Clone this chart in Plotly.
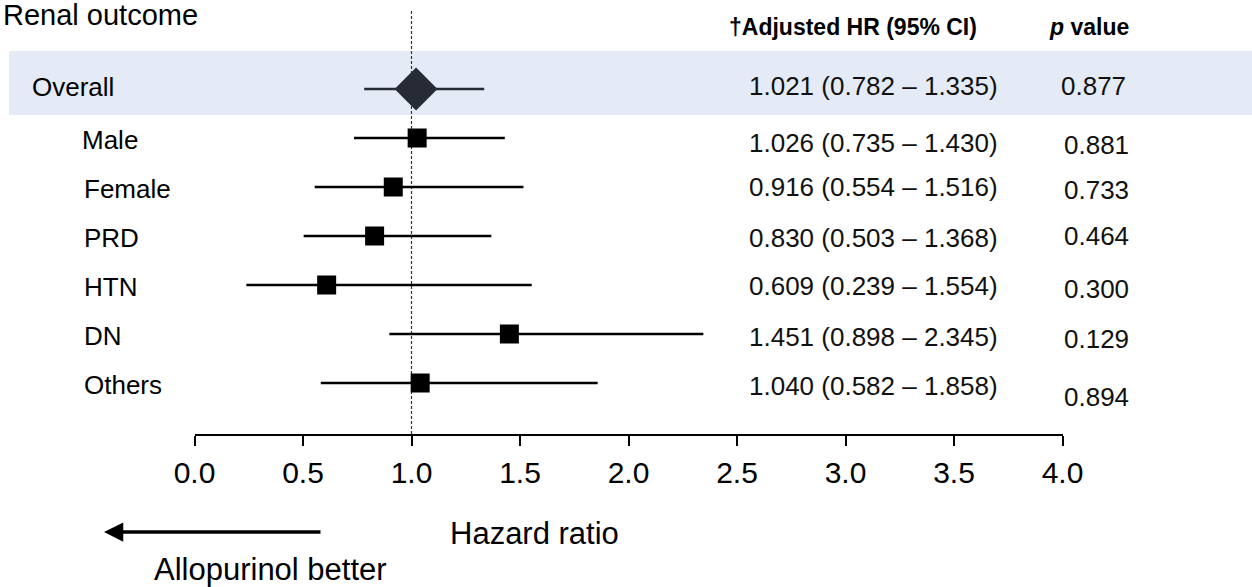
import plotly.graph_objects as go

# ---------------- data ----------------
groups = ["Overall", "Male", "Female", "PRD", "HTN", "DN", "Others"]
hr = [1.021, 1.026, 0.916, 0.830, 0.609, 1.451, 1.040]
ci_low = [0.782, 0.735, 0.554, 0.503, 0.239, 0.898, 0.582]
ci_high = [1.335, 1.430, 1.516, 1.368, 1.554, 2.345, 1.858]
p_values = ["0.877", "0.881", "0.733", "0.464", "0.300", "0.129", "0.894"]
x_ticks = [0.0, 0.5, 1.0, 1.5, 2.0, 2.5, 3.0, 3.5, 4.0]
x_tick_labels = ["0.0", "0.5", "1.0", "1.5", "2.0", "2.5", "3.0", "3.5", "4.0"]

# ---------------- layout constants ----------------
W, H = 1252, 587
PLOT_BOTTOM = 434          # pixel of x axis line
ROW_PX = 49                # pixels per row
TOP0 = 89                  # pixel of first row
FONT = "Liberation Sans, Arial, Helvetica, sans-serif"
y_top = -TOP0 / ROW_PX
y_bot = y_top + PLOT_BOTTOM / ROW_PX
x_dom = [194.5 / W, 1062.5 / W]

rows = list(range(len(groups)))
label_x = [30, 80, 82, 82, 82, 82, 82]
val_nudge = [-3, 5, 0, 2, 1, 3, 3]      # pixel nudges for value column
p_nudge = [-3, 7, 3, 0, 4, 5, 14]       # pixel nudges for p column

def px_to_paper_y(py):
    return 1 - py / PLOT_BOTTOM

fig = go.Figure()

lx, ly = [], []
for i in rows[1:]:
    lx += [ci_low[i], ci_high[i], None]
    ly += [i, i, None]
fig.add_trace(go.Scatter(x=lx, y=ly, mode="lines",
                         line=dict(color="black", width=2.6),
                         hoverinfo="skip", showlegend=False))
fig.add_trace(go.Scatter(x=[ci_low[0], ci_high[0]], y=[0, 0], mode="lines",
                         line=dict(color="#262b36", width=2.4),
                         hoverinfo="skip", showlegend=False))
fig.add_trace(go.Scatter(x=hr[1:], y=rows[1:], mode="markers",
                         marker=dict(symbol="square", size=19, color="black",
                                     line=dict(width=0)),
                         showlegend=False))
fig.add_trace(go.Scatter(x=[hr[0]], y=[0], mode="markers",
                         marker=dict(symbol="diamond", size=33, color="#262b36",
                                     line=dict(width=0)),
                         showlegend=False))

shapes = [
    dict(type="rect", xref="paper", yref="y", x0=9 / W, x1=1,
         y0=0 - 38 / ROW_PX, y1=0 + 26 / ROW_PX,
         fillcolor="#e4ebf6", line=dict(width=0), layer="below"),
    dict(type="line", xref="x", yref="paper", x0=1, x1=1,
         y0=0, y1=px_to_paper_y(10),
         line=dict(color="#333333", width=1.2, dash="3px,2px"), layer="below"),
]

ann = []
ann.append(dict(text="Renal outcome", xref="paper", yref="paper",
                x=1 / W, y=px_to_paper_y(15), xanchor="left", yanchor="middle",
                showarrow=False, font=dict(family=FONT, size=29, color="black")))
ann.append(dict(text="<b>†Adjusted HR (95% CI)</b>", xref="paper", yref="paper",
                x=727 / W, y=px_to_paper_y(27), xanchor="left", yanchor="middle",
                showarrow=False, font=dict(family=FONT, size=23, color="black")))
ann.append(dict(text="<b><i>p</i> value</b>", xref="paper", yref="paper",
                x=1047 / W, y=px_to_paper_y(27), xanchor="left", yanchor="middle",
                showarrow=False, font=dict(family=FONT, size=23, color="black")))
for i in rows:
    ann.append(dict(text=groups[i], xref="paper", yref="y",
                    x=label_x[i] / W, y=i + (2 if i else -2) / ROW_PX,
                    xanchor="left", yanchor="middle", showarrow=False,
                    font=dict(family=FONT, size=26, color="black")))
    ann.append(dict(text=f"{hr[i]:.3f} ({ci_low[i]:.3f} – {ci_high[i]:.3f})",
                    xref="paper", yref="y", x=747 / W, y=i + val_nudge[i] / ROW_PX,
                    xanchor="left", yanchor="middle", showarrow=False,
                    font=dict(family=FONT, size=26, color="#111111")))
    ann.append(dict(text=p_values[i], xref="paper", yref="y",
                    x=(1059 if i == 0 else 1062) / W, y=i + p_nudge[i] / ROW_PX,
                    xanchor="left", yanchor="middle", showarrow=False,
                    font=dict(family=FONT, size=26, color="#111111")))
ann.append(dict(text="Hazard ratio", xref="paper", yref="paper",
                x=534 / W, y=px_to_paper_y(533), xanchor="center", yanchor="middle",
                showarrow=False, font=dict(family=FONT, size=31, color="black")))
ann.append(dict(text="", xref="paper", yref="paper",
                x=104 / W, y=px_to_paper_y(532), ax=218, ay=0,
                showarrow=True, arrowhead=2, arrowsize=1.1, arrowwidth=3.5,
                arrowcolor="black"))
ann.append(dict(text="Allopurinol better", xref="paper", yref="paper",
                x=152 / W, y=px_to_paper_y(569), xanchor="left", yanchor="middle",
                showarrow=False, font=dict(family=FONT, size=31, color="black")))

fig.update_layout(
    width=W, height=H, autosize=False,
    margin=dict(l=0, r=0, t=0, b=H - PLOT_BOTTOM, pad=0, autoexpand=False),
    paper_bgcolor="white", plot_bgcolor="rgba(0,0,0,0)",
    shapes=shapes, annotations=ann, showlegend=False,
    xaxis=dict(domain=x_dom, range=[0, 4], tickvals=x_ticks, ticktext=x_tick_labels,
               showgrid=False, zeroline=False, showline=True, linecolor="black",
               linewidth=2, ticks="outside", ticklen=10, tickwidth=2,
               tickcolor="black", ticklabelstandoff=1, automargin=False,
               tickfont=dict(family=FONT, size=30, color="black"), fixedrange=True),
    yaxis=dict(range=[y_bot, y_top], visible=False, showgrid=False,
               zeroline=False, fixedrange=True, automargin=False),
)

fig.write_html("out.html", config={"responsive": False, "displayModeBar": False})
